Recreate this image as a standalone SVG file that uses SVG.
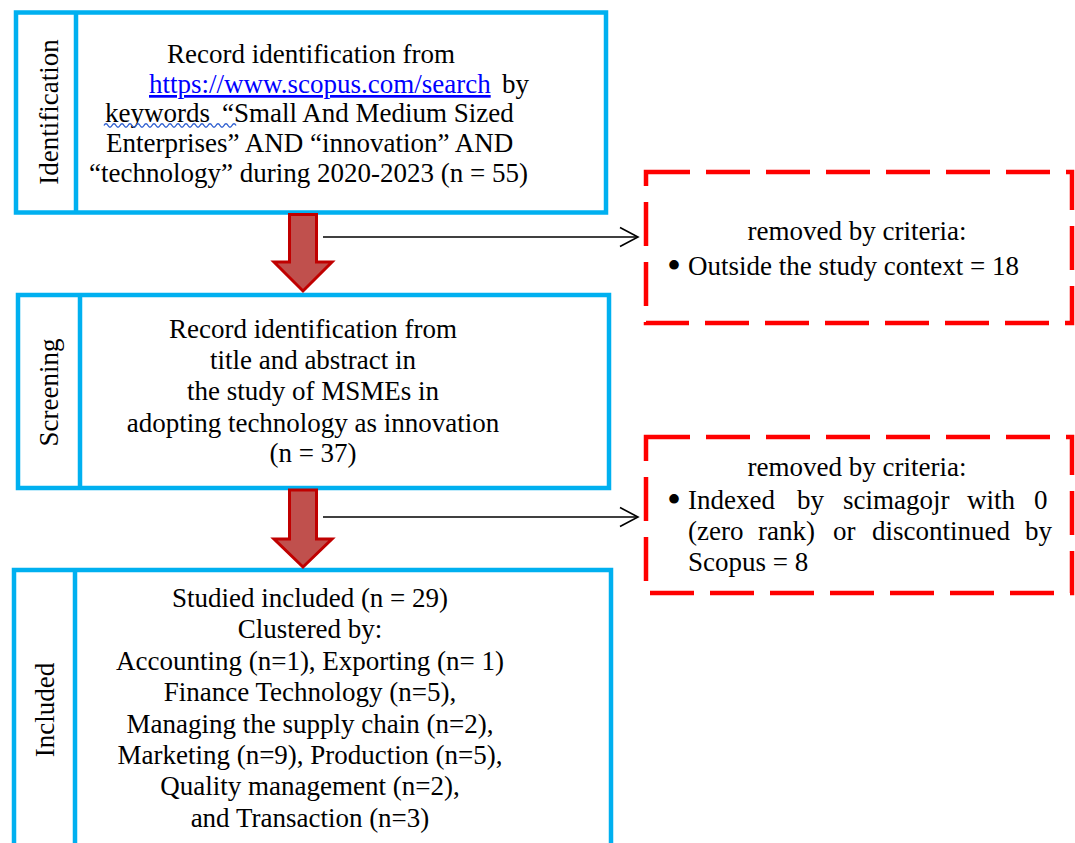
<svg xmlns="http://www.w3.org/2000/svg" width="1075" height="843" viewBox="0 0 1075 843">
<style>
.box{fill:#fff;stroke:#00B0F0;stroke-width:4.5}
.div{stroke:#00B0F0;stroke-width:4.5}
.dash{fill:#fff;stroke:#FF0000;stroke-width:4.5;stroke-dasharray:44 16}
.t{font-family:"Liberation Serif","Times New Roman",serif;font-size:27px;fill:#000}
.c{text-anchor:middle}
.bul{font-size:40px}
.blk{fill:#C0504D;stroke:#C00000;stroke-width:3;stroke-linejoin:miter}
.thin{stroke:#000;stroke-width:1.6;fill:none}
</style>
<rect width="1075" height="843" fill="#fff"/>
<g id="identification">
<rect class="box" x="16" y="12.5" width="590" height="200"/>
<line class="div" x1="76" y1="12.5" x2="76" y2="212.5"/>
<text class="t c" transform="translate(58,112) rotate(-90)">Identification</text>
<text class="t" x="167" y="63">Record identification from</text>
<text class="t" y="93"><tspan x="149" fill="#0000FF" text-decoration="underline">https://www.scopus.com/search</tspan><tspan x="502">by</tspan></text>
<text class="t" y="122"><tspan x="105">keywords</tspan><tspan x="222">“Small And Medium Sized</tspan></text>
<path d="M104,125.5 q2,-3.5 4,0 t4,0 t4,0 t4,0 t4,0 t4,0 t4,0 t4,0 t4,0 t4,0 t4,0 t4,0 t4,0 t4,0 t4,0 t4,0 t4,0 t4,0 t4,0 t4,0 t4,0 t4,0 t4,0 t4,0 t4,0 t4,0 t4,0 t4,0 t4,0 t4,0 t4,0 t4,0 t4,0" fill="none" stroke="#2F5FD0" stroke-width="1.4"/>
<text class="t" x="106" y="152">Enterprises” AND “innovation” AND</text>
<text class="t" x="89" y="182">“technology” during 2020-2023 (n = 55)</text>
</g>
<g id="screening">
<rect class="box" x="18" y="295" width="591" height="193"/>
<line class="div" x1="80" y1="295" x2="80" y2="488"/>
<text class="t c" transform="translate(58,392.5) rotate(-90)">Screening</text>
<text class="t c" x="313" y="338">Record identification from</text>
<text class="t c" x="313" y="369">title and abstract in</text>
<text class="t c" x="313" y="400">the study of MSMEs in</text>
<text class="t c" x="313" y="432">adopting technology as innovation</text>
<text class="t c" x="313" y="462">(n = 37)</text>
</g>
<g id="included">
<rect class="box" x="14" y="570" width="597" height="300"/>
<line class="div" x1="75" y1="570" x2="75" y2="870"/>
<text class="t c" transform="translate(54,710) rotate(-90)">Included</text>
<text class="t c" x="310" y="607">Studied included (n = 29)</text>
<text class="t c" x="310" y="638">Clustered by:</text>
<text class="t c" x="310" y="670">Accounting (n=1), Exporting (n= 1)</text>
<text class="t c" x="310" y="701">Finance Technology (n=5),</text>
<text class="t c" x="310" y="733">Managing the supply chain (n=2),</text>
<text class="t c" x="310" y="764">Marketing (n=9), Production (n=5),</text>
<text class="t c" x="310" y="795">Quality management (n=2),</text>
<text class="t c" x="310" y="827">and Transaction (n=3)</text>
</g>
<g id="removed1">
<rect class="dash" x="646" y="172" width="426" height="151"/>
<text class="t c" x="857" y="240">removed by criteria:</text>
<text class="t" y="275"><tspan class="bul" x="667" y="279">•</tspan><tspan x="688" y="275">Outside the study context = 18</tspan></text>
</g>
<g id="removed2">
<rect class="dash" x="646" y="437" width="426" height="156"/>
<text class="t c" x="857" y="476">removed by criteria:</text>
<text class="t" y="509"><tspan class="bul" x="667" y="513">•</tspan><tspan x="688" y="509">Indexed</tspan><tspan x="797">by</tspan><tspan x="843">scimagojr</tspan><tspan x="967">with</tspan><tspan x="1034">0</tspan></text>
<text class="t" y="540"><tspan x="688">(zero</tspan><tspan x="758">rank)</tspan><tspan x="833">or</tspan><tspan x="872">discontinued</tspan><tspan x="1025">by</tspan></text>
<text class="t" x="688" y="571">Scopus = 8</text>
</g>
<g id="connectors">
<path class="blk" d="M289.5,214.5 L316.5,214.5 L316.5,262 L332,262 L303,291 L274,262 L289.5,262 Z"/>
<path class="blk" d="M289.5,490 L316.5,490 L316.5,539 L332,539 L303,567 L274,539 L289.5,539 Z"/>
<line class="thin" x1="323" y1="237" x2="637" y2="237"/>
<path class="thin" d="M620,227.5 L638,237 L620,246.5"/>
<line class="thin" x1="323" y1="517" x2="637" y2="517"/>
<path class="thin" d="M620,507.5 L638,517 L620,526.5"/>
</g>
</svg>
